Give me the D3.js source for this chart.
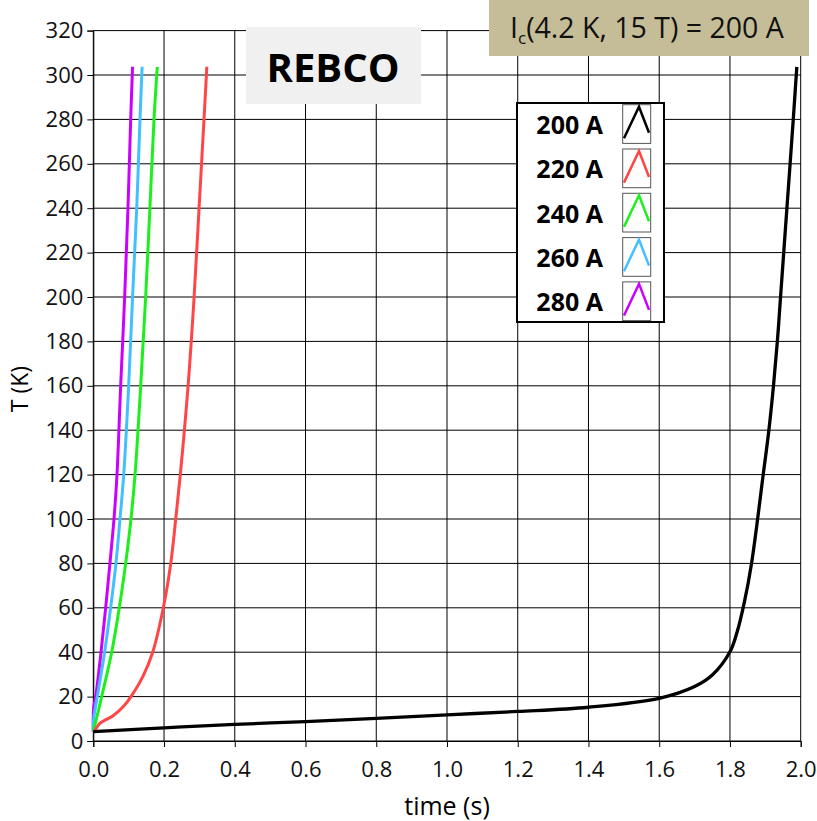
<!DOCTYPE html>
<html>
<head>
<meta charset="utf-8">
<script src="https://cdn.jsdelivr.net/npm/d3@7"></script>
<style>
  body { margin: 0; background: #fff; }
  text { font-family: "Open Sans", sans-serif; }
</style>
</head>
<body>
<div id="chart"></div>
<script>
// ---- data (time in s, T in K) ----
var currents = ["200 A", "220 A", "240 A", "260 A", "280 A"];
var colors = ["#000000", "#ff4545", "#1cf01c", "#42bfff", "#cc00ff"];

var t200 = [0, 0.2, 0.4, 0.6, 0.8, 1.0, 1.2, 1.4, 1.6, 1.7, 1.75, 1.8, 1.82, 1.84, 1.861, 1.894, 1.91, 1.923, 1.934, 1.943, 1.961, 1.979, 1.989];
var T200 = [4.2, 5.9, 7.5, 8.7, 10.2, 11.8, 13.3, 15.2, 19.2, 24.5, 29.7, 40.2, 49, 62, 80, 120, 140, 160, 180, 200, 240, 280, 303.7];

var t220 = [0, 0.005, 0.019, 0.057, 0.085, 0.1066, 0.14, 0.168, 0.198, 0.219, 0.233, 0.246, 0.268, 0.285, 0.299, 0.313, 0.321];
var T220 = [4.2, 5, 8, 11.5, 15.5, 20, 29, 40, 60, 80, 100, 120, 160, 200, 240, 280, 303.7];

var t240 = [0, 0.0237, 0.052, 0.0735, 0.0915, 0.1065, 0.118, 0.134, 0.148, 0.16, 0.1716, 0.181];
var T240 = [4.2, 20, 40, 60, 80, 100, 120, 160, 200, 240, 280, 303.7];

var t260 = [0, 0.001, 0.0113, 0.032, 0.049, 0.064, 0.0755, 0.086, 0.1, 0.111, 0.1227, 0.132, 0.138];
var T260 = [4.2, 10, 20, 40, 60, 80, 100, 120, 160, 200, 240, 280, 303.7];

var t280 = [0, 0.001, 0.0068, 0.0218, 0.035, 0.047, 0.0585, 0.067, 0.0774, 0.0887, 0.098, 0.1057, 0.111];
var T280 = [4.2, 15, 20, 40, 60, 80, 100, 120, 160, 200, 240, 280, 303.7];

var xTicks = [0, 0.2, 0.4, 0.6, 0.8, 1.0, 1.2, 1.4, 1.6, 1.8, 2.0];
var yTicks = d3.range(0, 321, 20);

var series = [
  { name: currents[0], color: colors[0], t: t200, T: T200 },
  { name: currents[1], color: colors[1], t: t220, T: T220 },
  { name: currents[2], color: colors[2], t: t240, T: T240 },
  { name: currents[3], color: colors[3], t: t260, T: T260 },
  { name: currents[4], color: colors[4], t: t280, T: T280 }
];

var W = 817, H = 821;
var svg = d3.select("#chart").append("svg").attr("width", W).attr("height", H);

var x = d3.scaleLinear().domain([0, 2]).range([93.3, 800.7]);
var y = d3.scaleLinear().domain([0, 320]).range([741, 30.6]);

// grid
var grid = svg.append("g");
grid.selectAll("line.vx").data(xTicks).enter().append("line")
  .attr("x1", function (d) { return x(d); }).attr("x2", function (d) { return x(d); })
  .attr("y1", y(0)).attr("y2", y(320))
  .attr("stroke", "#000").attr("stroke-width", 1);
grid.selectAll("line.hy").data(yTicks).enter().append("line")
  .attr("x1", x(0)).attr("x2", x(2))
  .attr("y1", function (d) { return y(d); }).attr("y2", function (d) { return y(d); })
  .attr("stroke", "#000").attr("stroke-width", 1);

// axes
var xAxis = svg.append("g").attr("transform", "translate(0," + y(0) + ")")
  .call(d3.axisBottom(x).tickValues(xTicks).tickSize(6).tickPadding(14).tickFormat(d3.format(".1f")));
var yAxis = svg.append("g").attr("transform", "translate(" + x(0) + ",0)")
  .call(d3.axisLeft(y).tickValues(yTicks).tickSize(6).tickPadding(4));
[xAxis, yAxis].forEach(function (a) {
  a.select(".domain").attr("stroke", "#000");
  a.selectAll("text").style("font-family", "'Open Sans', sans-serif").style("font-size", "22px").attr("fill", "#111");
});

svg.append("text").attr("x", x(1)).attr("y", 815)
  .attr("text-anchor", "middle").style("font-size", "25px").text("time (s)");
svg.append("text").attr("transform", "translate(28,389) rotate(-90)")
  .attr("text-anchor", "middle").style("font-size", "23px").text("T (K)");

// curves
var line = d3.line()
  .x(function (d) { return x(d[0]); })
  .y(function (d) { return y(d[1]); })
  .curve(d3.curveCatmullRom.alpha(0.5));

svg.append("g").selectAll("path").data(series.slice().reverse()).enter().append("path")
  .attr("d", function (s) { return line(d3.zip(s.t, s.T)); })
  .attr("fill", "none")
  .attr("stroke", function (s) { return s.color; })
  .attr("stroke-width", function (s) { return s.name === currents[0] ? 3.3 : 3; })
  .attr("stroke-linejoin", "round");

// REBCO label
svg.append("rect").attr("x", 246).attr("y", 27).attr("width", 175).attr("height", 77).attr("fill", "#f0f0f0");
svg.append("text").attr("x", 333).attr("y", 82).attr("text-anchor", "middle")
  .style("font-size", "40px").style("font-weight", "bold").text("REBCO");

// Ic box
svg.append("rect").attr("x", 489).attr("y", 0).attr("width", 320).attr("height", 56).attr("fill", "#c4bd97");
var ic = svg.append("text").attr("x", 510).attr("y", 38).style("font-size", "28.5px").attr("fill", "#111");
ic.append("tspan").text("I");
ic.append("tspan").attr("dy", 6).style("font-size", "17px").text("c");
ic.append("tspan").attr("dy", -6).text("(4.2 K, 15 T) = 200 A");

// legend
var lg = svg.append("g");
lg.append("rect").attr("x", 517).attr("y", 103).attr("width", 147).attr("height", 219)
  .attr("fill", "#fff").attr("stroke", "#000").attr("stroke-width", 2);
var item = lg.selectAll("g.item").data(series).enter().append("g")
  .attr("transform", function (d, i) { return "translate(0," + (i * 44.3) + ")"; });
item.append("text").attr("x", 603).attr("y", 134).attr("text-anchor", "end")
  .style("font-size", "25px").style("font-weight", "bold").text(function (d) { return d.name; });
item.append("rect").attr("x", 622.7).attr("y", 104.7).attr("width", 28).attr("height", 38.7)
  .attr("fill", "#fff").attr("stroke", "#555").attr("stroke-width", 1);
item.append("path")
  .attr("d", "M624,138.3L639,106.7L649,132.7")
  .attr("fill", "none").attr("stroke", function (d) { return d.color; }).attr("stroke-width", 2.5);
</script>
</body>
</html>
